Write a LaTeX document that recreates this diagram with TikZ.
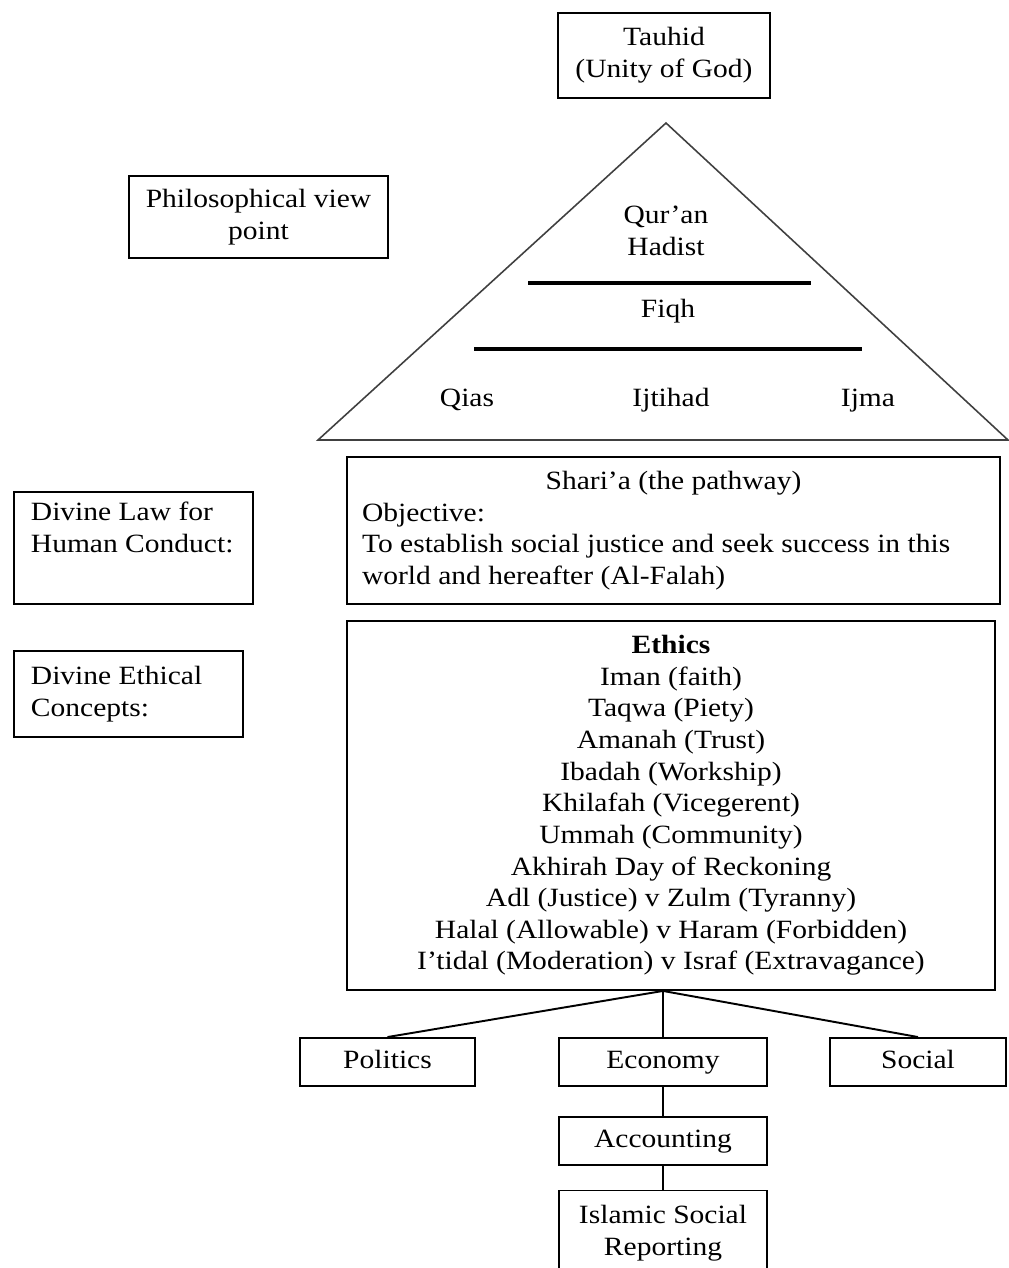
\documentclass[tikz,border=0pt]{standalone}
\usepackage{fontspec}
\setmainfont{Liberation Serif}[FakeStretch=1.12]
\usetikzlibrary{positioning}

\begin{document}
\begin{tikzpicture}[x=0.02cm, y=-0.02cm,
    every node/.style={font=\fontsize{15}{18}\selectfont},
    box/.style={draw, line width=1.1pt, inner sep=0pt, align=center},
    sidebox/.style={box, align=flush left, inner xsep=0.34cm, anchor=west},
    one/.style={text height=11pt, text depth=4pt},
    bar/.style={line width=2.4pt},
    link/.style={line width=1.1pt}]
  \useasboundingbox (0,0) rectangle (1008,1268);
  % top
  \node[box, minimum width=4.24cm, minimum height=1.7cm] (tauhid) at (664,55.5)
    {Tauhid\\(Unity of God)};
  \node[box, minimum width=5.18cm, minimum height=1.64cm] (philo) at (258.5,217)
    {Philosophical view\\point};
  % pyramid
  \coordinate (apex) at (666,123);
  \coordinate (baseL) at (318,440);
  \coordinate (baseR) at (1008,440);
  \draw[line width=0.9pt, black!75] (apex) -- (baseL) -- (baseR) -- cycle;
  \draw[bar] (528,283) -- (811,283);
  \draw[bar] (474,349) -- (862,349);
  \node[align=center] (quran) at (666,231) {Qur’an\\Hadist};
  \node (fiqh) at (668,311) {Fiqh};
  \foreach \name/\x/\txt in {qias/467/Qias, ijtihad/671/Ijtihad, ijma/868/Ijma}
    \node[anchor=base] (\name) at (\x,406) {\txt};
  % divine law
  \node[sidebox, text width=4.1cm, minimum height=2.24cm] (divlaw) at (13,548)
    {Divine Law for\\Human Conduct:\\\strut};
  \node[box, align=flush left, inner xsep=0.3cm, text width=12.46cm,
        minimum height=2.94cm] (sharia) at (673.5,530.5)
    {\makebox[\linewidth]{Shari’a (the pathway)}\\
     Objective:\\
     To establish social justice and seek success in this\\
     world and hereafter (Al-Falah)};
  % ethics
  \node[sidebox, text width=3.9cm, minimum height=1.72cm] (divethic) at (13,694)
    {Divine Ethical\\Concepts:};
  \node[box, minimum width=12.96cm, minimum height=7.38cm] (ethics) at (671,805.5)
    {\textbf{Ethics}\\
     Iman (faith)\\
     Taqwa (Piety)\\
     Amanah (Trust)\\
     Ibadah (Workship)\\
     Khilafah (Vicegerent)\\
     Ummah (Community)\\
     Akhirah Day of Reckoning\\
     Adl (Justice) v Zulm (Tyranny)\\
     Halal (Allowable) v Haram (Forbidden)\\
     I’tidal (Moderation) v Israf (Extravagance)};
  % fields
  \node[box, one, minimum width=3.5cm, minimum height=0.96cm] (politics) at (387.5,1062) {Politics};
  \node[box, one, minimum width=4.16cm, minimum height=0.96cm] (economy) at (663,1062) {Economy};
  \node[box, one, minimum width=3.52cm, minimum height=0.96cm] (social) at (918,1062) {Social};
  \node[box, one, minimum width=4.16cm, minimum height=0.96cm] (accounting) at (663,1141) {Accounting};
  \node[box, minimum width=4.16cm, minimum height=1.7cm] (isr) at (663,1233)
    {Islamic Social\\Reporting};
  \coordinate (fan) at (ethics.south -| economy.north);
  \draw[link] (fan) -- (politics.north);
  \draw[link] (fan) -- (economy.north);
  \draw[link] (fan) -- (social.north);
  \draw[link] (economy) -- (accounting);
  \draw[link] (accounting) -- (isr);
\end{tikzpicture}
\end{document}
